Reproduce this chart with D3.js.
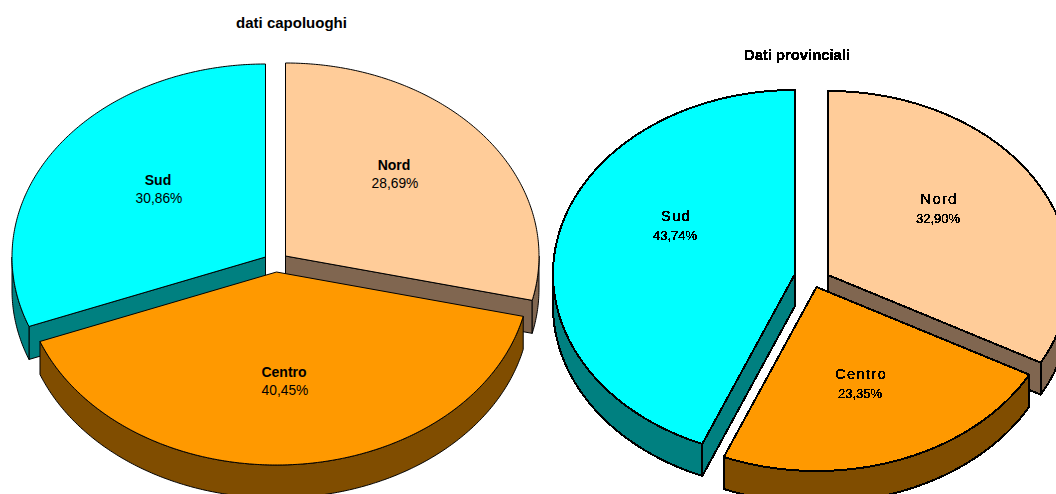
<!DOCTYPE html>
<html>
<head>
<meta charset="utf-8">
<script src="https://cdn.jsdelivr.net/npm/d3@7"></script>
<style>
body { margin: 0; background: #fff; overflow: hidden; }
text { font-family: "Liberation Sans", Arial, sans-serif; fill: #000; text-anchor: middle; }
</style>
</head>
<body>
<div class="mainviz"></div>
<script>
var categories = ["Nord", "Centro", "Sud"];
var capoluoghiValues = [28.69, 40.45, 30.86];
var provincialiValues = [32.90, 23.35, 43.74];

var topColors = ["#FFCC99", "#FF9900", "#00FFFF"];
var sideColors = ["#806650", "#804D00", "#008080"];

var width = 1056, height = 494;

var svg = d3.select(".mainviz").append("svg")
	.attr("width", width)
	.attr("height", height)
	.style("display", "block");

// threshold on the text alpha, the right chart is a low quality bitmap in the original
var jag = svg.append("defs").append("filter").attr("id", "jag")
	.attr("filterUnits", "userSpaceOnUse")
	.attr("x", 0).attr("y", 0).attr("width", width).attr("height", height);
jag.append("feComponentTransfer").append("feFuncA")
	.attr("type", "discrete").attr("tableValues", "0 1 1 1");

var leftChart = {
	title: "dati capoluoghi", titleX: 291.5, titleY: 28, titleSize: 15,
	values: capoluoghiValues,
	cx: 275.5, cy: 263, rx: 253.5, ry: 193, depth: 33,
	shift: [[10, -7], [1, 9], [-10, -6]],
	labelPos: [[394, 170], [284, 377], [158, 185]],
	valueDx: 1, valueGap: 18, nameWeight: "bold", nameSize: 14, valueSize: 13.8,
	nameSpacing: 0, strokeW: 1, crisp: false
};

var rightChart = {
	title: "Dati provinciali", titleX: 797, titleY: 60, titleSize: 14.8,
	values: provincialiValues,
	cx: 812, cy: 280, rx: 242, ry: 184, depth: 32,
	shift: [[16, -5], [4.5, 7], [-17, -6]],
	labelPos: [[939, 204], [861, 379], [676, 221]],
	valueDx: -1, valueGap: 19, nameWeight: "normal", nameSize: 15, valueSize: 13,
	nameSpacing: 1.2, strokeW: 2, crisp: true
};

function drawPie(cfg) {
	var g = svg.append("g");
	if (cfg.crisp) g.attr("shape-rendering", "crispEdges");

	var x = d3.scaleLinear().domain([-1, 1]).range([cfg.cx - cfg.rx, cfg.cx + cfg.rx]);
	var y = d3.scaleLinear().domain([-1, 1]).range([cfg.cy - cfg.ry, cfg.cy + cfg.ry]);

	var pie = d3.pie().sort(null).value(function (d) { return d; });
	var slices = pie(cfg.values);

	var line = d3.line();
	var close = function (pts) { return line(pts) + "Z"; };

	function arcPoints(a0, a1, i, drop) {
		var n = Math.max(2, Math.ceil((a1 - a0) / 0.01));
		return d3.range(n + 1).map(function (k) {
			var t = a0 + (a1 - a0) * k / n;
			return [x(Math.sin(t)) + cfg.shift[i][0], y(-Math.cos(t)) + cfg.shift[i][1] + drop];
		});
	}

	function apex(i, drop) {
		return [x(0) + cfg.shift[i][0], y(0) + cfg.shift[i][1] + drop];
	}

	// back slices first, Centro sits in front of both
	[0, 2, 1].forEach(function (i) {
		var s = slices[i];
		var sg = g.append("g")
			.attr("stroke", "#000")
			.attr("stroke-width", cfg.strokeW)
			.attr("stroke-linejoin", "round");

		// radial walls that face the viewer
		[s.startAngle, s.endAngle].forEach(function (a, idx) {
			var facing = idx === 0 ? Math.sin(a) < -1e-6 : Math.sin(a) > 1e-6;
			if (!facing) return;
			var rimTop = arcPoints(a, a, i, 0)[0];
			sg.append("path")
				.attr("d", close([apex(i, 0), rimTop, [rimTop[0], rimTop[1] + cfg.depth], apex(i, cfg.depth)]))
				.attr("fill", sideColors[i]);
		});

		// outer rim, only the front half of the ellipse shows
		var a0 = Math.max(s.startAngle, Math.PI / 2);
		var a1 = Math.min(s.endAngle, Math.PI * 1.5);
		if (a1 > a0) {
			sg.append("path")
				.attr("d", close(arcPoints(a0, a1, i, 0).concat(arcPoints(a0, a1, i, cfg.depth).reverse())))
				.attr("fill", sideColors[i]);
		}

		// top face
		sg.append("path")
			.attr("d", close([apex(i, 0)].concat(arcPoints(s.startAngle, s.endAngle, i, 0))))
			.attr("fill", topColors[i]);
	});

	var tg = svg.append("g");
	if (cfg.crisp) tg.attr("filter", "url(#jag)");

	tg.append("text")
		.attr("x", cfg.titleX)
		.attr("y", cfg.titleY)
		.attr("font-weight", "bold")
		.attr("font-size", cfg.titleSize)
		.text(cfg.title);

	categories.forEach(function (c, i) {
		tg.append("text")
			.attr("x", cfg.labelPos[i][0])
			.attr("y", cfg.labelPos[i][1])
			.attr("font-weight", cfg.nameWeight)
			.attr("font-size", cfg.nameSize)
			.attr("letter-spacing", cfg.nameSpacing)
			.text(c);
		tg.append("text")
			.attr("x", cfg.labelPos[i][0] + cfg.valueDx)
			.attr("y", cfg.labelPos[i][1] + cfg.valueGap)
			.attr("font-size", cfg.valueSize)
			.text(cfg.values[i].toFixed(2).replace(".", ",") + "%");
	});
}

drawPie(leftChart);
drawPie(rightChart);
</script>
</body>
</html>
